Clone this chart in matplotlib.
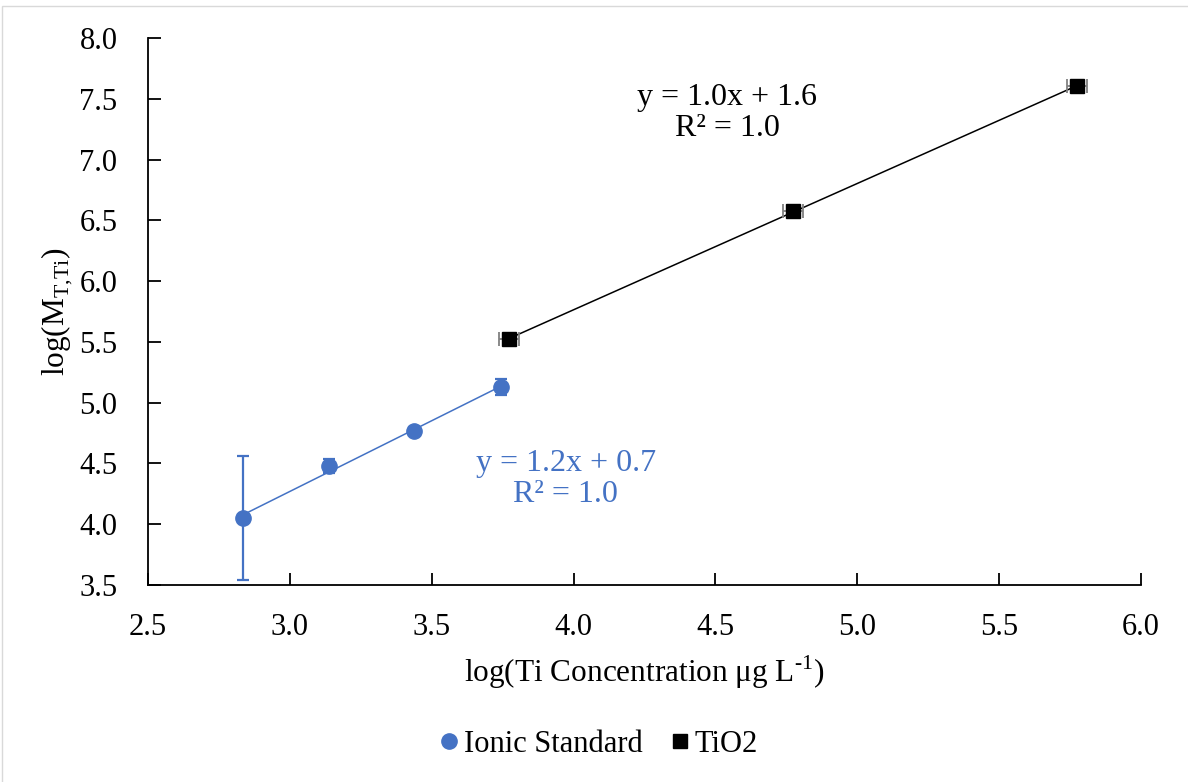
import numpy as np
import matplotlib
matplotlib.use("Agg")
import matplotlib.pyplot as plt
from matplotlib.patches import Rectangle

plt.rcParams['font.family'] = ['Liberation Serif', 'DejaVu Serif']
plt.rcParams['mathtext.fontset'] = 'custom'
plt.rcParams['mathtext.rm'] = 'Liberation Serif'

# ionic standard: log concentration vs log(M_T,Ti), with y error
ionic_x = [2.835, 3.138, 3.438, 3.744]
ionic_y = [4.05, 4.479, 4.766, 5.128]
ionic_err = [0.51, 0.055, 0.035, 0.065]

# TiO2 particles, with x error
tio2_x = [3.772, 4.773, 5.775]
tio2_y = [5.523, 6.576, 7.604]
tio2_xerr = [0.036, 0.036, 0.036]

blue = '#4472C4'
fs = 22

fig = plt.figure(figsize=(11.88, 7.82), dpi=100)
ax = fig.add_axes([0.1246, 0.2519, 0.8358, 0.6995])

# linear trendlines over each series' range
for xs, ys, col in [(ionic_x, ionic_y, blue), (tio2_x, tio2_y, 'black')]:
    m, b = np.polyfit(xs, ys, 1)
    xx = np.array([min(xs), max(xs)])
    ax.plot(xx, m * xx + b, color=col, lw=1.1, zorder=2)

ax.errorbar(ionic_x, ionic_y, yerr=ionic_err, fmt='none', ecolor=blue,
            elinewidth=1.6, capsize=4.3, capthick=1.6, zorder=3)
ax.errorbar(tio2_x, tio2_y, xerr=tio2_xerr, fmt='none', ecolor='#808080',
            elinewidth=1.3, capsize=5, capthick=1.3, zorder=3)
ax.plot(ionic_x, ionic_y, 'o', color=blue, ms=11, label='Ionic Standard', zorder=4)
ax.plot(tio2_x, tio2_y, 's', color='black', ms=10, label='TiO2', zorder=4)

ax.text(4.541, 7.382, 'y = 1.0x + 1.6\nR² = 1.0', ha='center', va='center',
        fontsize=23, linespacing=1.12)
ax.text(3.973, 4.372, 'y = 1.2x + 0.7\nR² = 1.0', ha='center', va='center',
        fontsize=23, linespacing=1.12, color=blue)

ax.set_xlim(2.5, 6.0)
ax.set_ylim(3.5, 8.0)
ax.set_xticks(np.arange(2.5, 6.01, 0.5))
ax.set_yticks(np.arange(3.5, 8.01, 0.5))
ax.xaxis.set_major_formatter(matplotlib.ticker.FormatStrFormatter('%.1f'))
ax.yaxis.set_major_formatter(matplotlib.ticker.FormatStrFormatter('%.1f'))
ax.tick_params(direction='in', length=9, width=1.3, labelsize=fs)
ax.tick_params(axis='x', pad=20)
ax.tick_params(axis='y', pad=22)
for s in ['top', 'right']:
    ax.spines[s].set_visible(False)
for s in ['left', 'bottom']:
    ax.spines[s].set_linewidth(1.3)

ax.set_xlabel('log(Ti Concentration μg L$^{\\mathregular{\u20101}}$)', fontsize=22.5, labelpad=8)
ax.set_ylabel('log(M$_{\\mathregular{T{,}Ti}}$)', fontsize=22.5, labelpad=4)

ax.legend(loc='center', bbox_to_anchor=(0.451, -0.291), ncol=2, frameon=False,
          fontsize=fs, handletextpad=0.0, columnspacing=0.7, markerscale=1.0,
          handlelength=1.0)

# light chart-area border
fig.patches.append(Rectangle((0.002, -0.01), 1.05, 1.002, transform=fig.transFigure,
                             fill=False, edgecolor='#d9d9d9', lw=1.0))

fig.savefig('out.png', dpi=100)
